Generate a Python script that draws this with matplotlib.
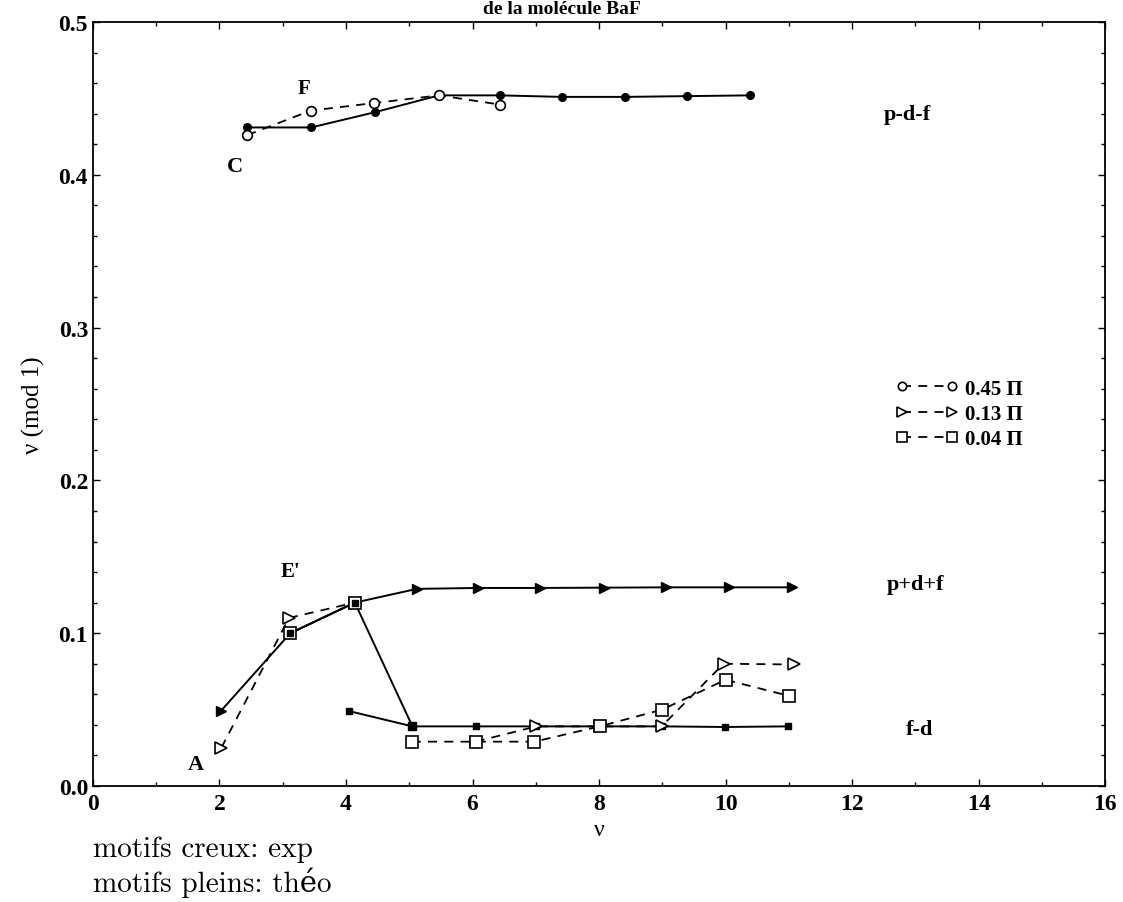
import matplotlib

matplotlib.use("Agg")
import matplotlib.pyplot as plt
from matplotlib.lines import Line2D
from matplotlib.ticker import MultipleLocator, FormatStrFormatter
import numpy as np

nan = np.nan

# p-d-f channel (0.45 pi)
pdf_theo_x = [2.43, 3.45, 4.46, 5.47, 6.43, 7.41, 8.41, 9.39, 10.39]
pdf_theo_y = [0.431, 0.431, 0.441, 0.452, 0.452, 0.451, 0.451, 0.4515, 0.452]
pdf_exp_x = [2.44, 3.44, 4.45, 5.47, 6.43]
pdf_exp_y = [0.426, 0.442, 0.447, 0.452, 0.446]

# p+d+f channel (0.13 pi)
ppdf_theo_x = [2.02, 3.12, 4.14, 5.12, 6.08, 7.07, 8.08, 9.06, 10.06, 11.05]
ppdf_theo_y = [0.049, 0.100, 0.120, 0.129, 0.1296, 0.1296, 0.1298, 0.130, 0.130, 0.130]
exp013_x = [2.03, 3.10, 4.14, nan, 6.05, 7.01, 8.01, 8.99, 9.97, 11.08]
exp013_y = [0.025, 0.110, 0.120, nan, 0.029, 0.039, 0.039, 0.039, 0.080, 0.0795]

# f-d channel (0.04 pi)
fd_theo_x = [4.05, 5.05, 6.05, 7.01, 8.01, 8.99, 9.99, 10.98]
fd_theo_y = [0.049, 0.039, 0.039, 0.039, 0.039, 0.039, 0.0386, 0.039]
fd_branch_x = [3.12, 4.14, 5.05]
fd_branch_y = [0.100, 0.120, 0.039]
exp004_x = [3.12, 4.14, nan, 5.04, 6.05, 6.98, 8.01, 9.0, 10.0, 11.0]
exp004_y = [0.100, 0.120, nan, 0.029, 0.029, 0.029, 0.039, 0.050, 0.0695, 0.059]

legend_labels = ["0.45 \u03a0", "0.13 \u03a0", "0.04 \u03a0"]

SERIF = ["Liberation Serif", "DejaVu Serif"]
bold_serif = dict(family=SERIF, fontweight="bold")

fig = plt.figure(figsize=(11.23, 9.03), dpi=100, facecolor="white")
ax = fig.add_axes([0.0828, 0.1285, 0.9012, 0.846])

solid = dict(color="black", linewidth=1.4, linestyle="-")
dashed = dict(color="black", linewidth=1.3, linestyle=(0, (5, 4)), markerfacecolor="white",
              markeredgecolor="black", markeredgewidth=1.2)

# theory (filled markers, solid lines)
ax.plot(pdf_theo_x, pdf_theo_y, marker="o", markersize=5.5, **solid)
ax.plot(ppdf_theo_x, ppdf_theo_y, marker=">", markersize=6.5, **solid)
ax.plot(fd_theo_x, fd_theo_y, marker="s", markersize=5, **solid)
ax.plot(fd_branch_x, fd_branch_y, marker="s", markersize=5.5, **solid)

# experiment (open markers, dashed lines)
ax.plot(pdf_exp_x, pdf_exp_y, marker="o", markersize=7, **dashed)
ax.plot(exp013_x, exp013_y, marker=">", markersize=8, **dashed)
ax.plot(exp004_x, exp004_y, marker="s", markersize=8, **dashed)
# theory squares drawn again on top where they overlap the open ones
ax.plot(fd_branch_x[:2], fd_branch_y[:2], marker="s", markersize=4, linestyle="none", color="black")

ax.set_xlim(0, 16)
ax.set_ylim(0, 0.5)
ax.xaxis.set_major_locator(MultipleLocator(2))
ax.xaxis.set_minor_locator(MultipleLocator(1))
ax.yaxis.set_major_locator(MultipleLocator(0.1))
ax.yaxis.set_minor_locator(MultipleLocator(0.02))
ax.yaxis.set_major_formatter(FormatStrFormatter("%.1f"))
ax.tick_params(which="both", direction="in", top=True, right=True)
ax.tick_params(which="major", length=5, width=1)
ax.tick_params(which="minor", length=3, width=1)
ax.tick_params(axis="x", pad=5)
for lab in ax.get_xticklabels() + ax.get_yticklabels():
    lab.set_fontfamily(SERIF)
    lab.set_fontweight("bold")
    lab.set_fontsize(17)
for sp in ax.spines.values():
    sp.set_linewidth(1.3)

ax.set_ylabel("\u03bd (mod 1)", family=SERIF, fontsize=18, labelpad=10)
ax.set_xlabel("\u03bd", family=SERIF, fontsize=17, labelpad=4)

# channel labels
ax.text(12.5, 0.440, "p-d-f", fontsize=16, va="center", **bold_serif)
ax.text(12.55, 0.132, "p+d+f", fontsize=16, va="center", **bold_serif)
ax.text(12.85, 0.037, "f-d", fontsize=16, va="center", **bold_serif)

# point labels
ax.text(2.24, 0.406, "C", fontsize=16, ha="center", va="center", **bold_serif)
ax.text(3.33, 0.457, "F", fontsize=15, ha="center", va="center", **bold_serif)
ax.text(3.12, 0.141, "E'", fontsize=15, ha="center", va="center", **bold_serif)
ax.text(1.62, 0.0144, "A", fontsize=16, ha="center", va="center", **bold_serif)

handles = [
    Line2D([0], [0], marker="o", markersize=6, **dashed),
    Line2D([0], [0], marker=">", markersize=7, **dashed),
    Line2D([0], [0], marker="s", markersize=7, **dashed),
]
ax.legend(handles, legend_labels, loc="center left", bbox_to_anchor=(0.775, 0.487),
          frameon=False, numpoints=2, handlelength=3.0, handletextpad=0.3,
          labelspacing=0.25, prop=dict(family=SERIF, weight="bold", size=15))

fig.text(0.5, 1 - 1 / 903, "de la mol\u00e9cule BaF", ha="center", va="top",
         fontsize=14, **bold_serif)

fig.text(93 / 1123, 1 - 850 / 903, "motifs creux: exp", family=["cmr10", "DejaVu Serif"],
         fontsize=21, ha="left", va="center")
fig.text(93 / 1123, 1 - 883 / 903, "motifs pleins: th\u00e9o", family=["cmr10", "DejaVu Serif"],
         fontsize=21, ha="left", va="center")

fig.savefig("out.png", dpi=100, facecolor="white")
